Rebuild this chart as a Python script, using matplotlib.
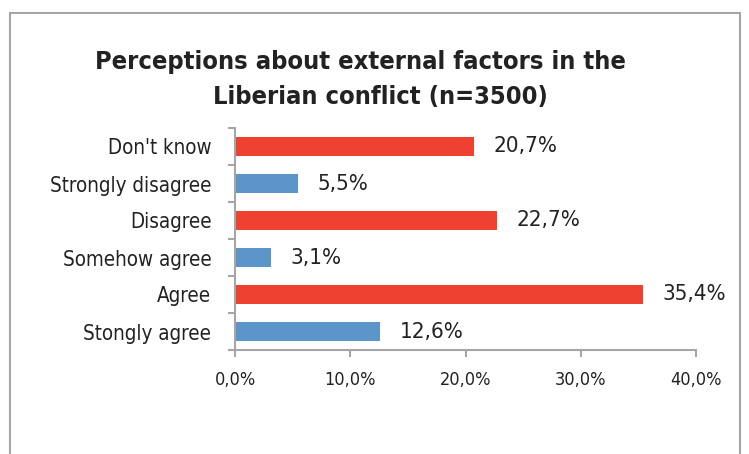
import matplotlib.pyplot as plt
from matplotlib.patches import Rectangle
from matplotlib.ticker import FuncFormatter

# datos de la encuesta (de abajo hacia arriba)
categorias = ['Stongly agree', 'Agree', 'Somehow agree', 'Disagree',
              'Strongly disagree', "Don't know"]
porcentajes = [12.6, 35.4, 3.1, 22.7, 5.5, 20.7]
colores = ['#5B95C9', '#EE4130', '#5B95C9', '#EE4130', '#5B95C9', '#EE4130']

plt.rcParams['font.family'] = ['DejaVu Sans']
plt.rcParams['font.stretch'] = 'condensed'
gris = '#A6A6A6'
texto = '#222222'

fig = plt.figure(figsize=(7.49, 4.54), dpi=100)
fig.patch.set_facecolor('white')

# marco del grafico
fig.patches.append(Rectangle((10 / 749, -0.1), 730 / 749, 1.1 - 13 / 454,
                             transform=fig.transFigure, fill=False,
                             edgecolor=gris, linewidth=1.5))

ax = fig.add_axes([235 / 749, 1 - 350 / 454, 461 / 749, 222 / 454])
pos = range(len(categorias))
ax.barh(pos, porcentajes, height=0.5, color=colores)

for y, v in zip(pos, porcentajes):
    ax.text(v + 1.7, y, f'{v:.1f}%'.replace('.', ','), va='center', ha='left',
            fontsize=16, color=texto)

ax.set_xlim(0, 40)
ax.set_ylim(-0.5, len(categorias) - 0.5)
ax.set_xticks([0, 10, 20, 30, 40])
ax.xaxis.set_major_formatter(FuncFormatter(lambda x, p: f'{x:.1f}%'.replace('.', ',')))
ax.set_yticks(list(pos))
ax.set_yticklabels(categorias)
ax.set_yticks([i - 0.5 for i in range(len(categorias) + 1)], minor=True)

for lado in ['top', 'right']:
    ax.spines[lado].set_visible(False)
for lado in ['left', 'bottom']:
    ax.spines[lado].set_color(gris)
    ax.spines[lado].set_linewidth(1.5)

ax.tick_params(axis='y', which='major', length=0, pad=17, labelsize=14.8, labelcolor=texto)
ax.tick_params(axis='y', which='minor', length=5, color=gris, width=1.5)
ax.tick_params(axis='x', length=5, color=gris, width=1.5, labelsize=13,
               labelcolor=texto, pad=10)

fig.text(360 / 749, 1 - 62 / 454, 'Perceptions about external factors in the',
         ha='center', va='center', fontsize=18.3, fontweight='bold', color=texto)
fig.text(380 / 749, 1 - 97 / 454, 'Liberian conflict (n=3500)',
         ha='center', va='center', fontsize=18.3, fontweight='bold', color=texto)

fig.savefig('out.png', dpi=100)
